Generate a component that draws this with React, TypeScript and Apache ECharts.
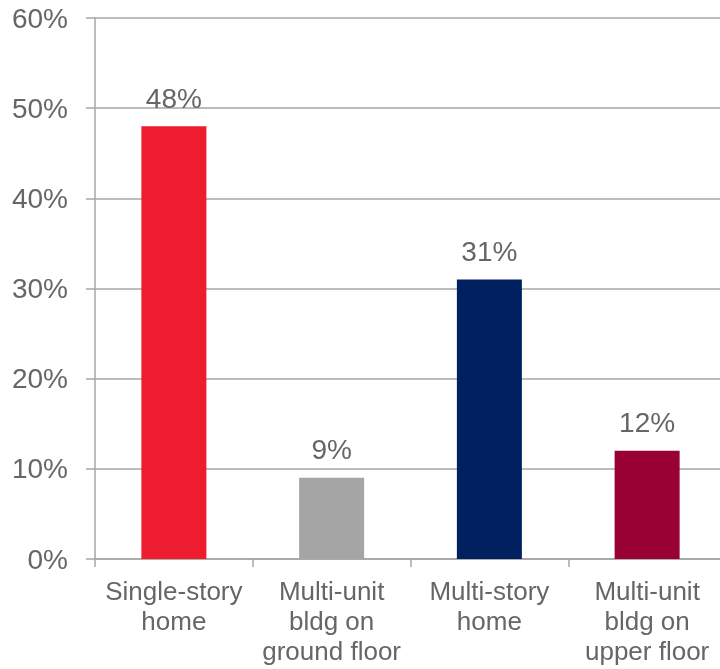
import React, { useEffect, useRef } from "react";
import * as echarts from "echarts";

const categories = [
  "Single-story\nhome",
  "Multi-unit\nbldg on\nground floor",
  "Multi-story\nhome",
  "Multi-unit\nbldg on\nupper floor",
];
const values = [48, 9, 31, 12];
const barColors = ["#ED1C2E", "#A5A5A5", "#002060", "#990033"];
const yTicks = [0, 10, 20, 30, 40, 50, 60];

export default function App() {
  const ref = useRef<HTMLDivElement>(null);
  useEffect(() => {
    if (!ref.current) return;
    const chart = echarts.init(ref.current, undefined, { renderer: "svg" });
    const font = "Arial, Liberation Sans, sans-serif";
    chart.setOption({
      animation: false,
      grid: { left: 95, top: 18, height: 541, width: 631, outerBoundsMode: "none", containLabel: false },
      xAxis: {
        type: "category",
        data: categories,
        axisLine: { lineStyle: { color: "#A6A6A6", width: 1.5 } },
        axisTick: { show: true, length: 8, lineStyle: { color: "#A6A6A6", width: 1.5 } },
        axisLabel: {
          color: "#666666",
          fontSize: 26,
          fontFamily: font,
          lineHeight: 30,
          margin: 17,
          interval: 0,
        },
      },
      yAxis: {
        type: "value",
        min: yTicks[0],
        max: yTicks[yTicks.length - 1],
        interval: 10,
        axisLine: { show: true, lineStyle: { color: "#A6A6A6", width: 1.5 } },
        axisTick: { show: true, length: 9, lineStyle: { color: "#A6A6A6", width: 1.5 } },
        splitLine: { show: true, lineStyle: { color: "#A6A6A6", width: 1.5 } },
        axisLabel: {
          color: "#666666",
          fontSize: 28,
          fontFamily: font,
          margin: 27,
          formatter: "{value}%",
        },
      },
      series: [
        {
          type: "bar",
          barWidth: 65,
          data: values.map((v, i) => ({ value: v, itemStyle: { color: barColors[i] } })),
          label: {
            show: true,
            position: "top",
            distance: 14,
            color: "#666666",
            fontSize: 28,
            fontFamily: font,
            formatter: "{c}%",
          },
        },
      ],
    });
    return () => chart.dispose();
  }, []);
  return (
    <div
      ref={ref}
      style={{ position: "fixed", left: 0, top: 0, width: 720, height: 669 }}
    />
  );
}
